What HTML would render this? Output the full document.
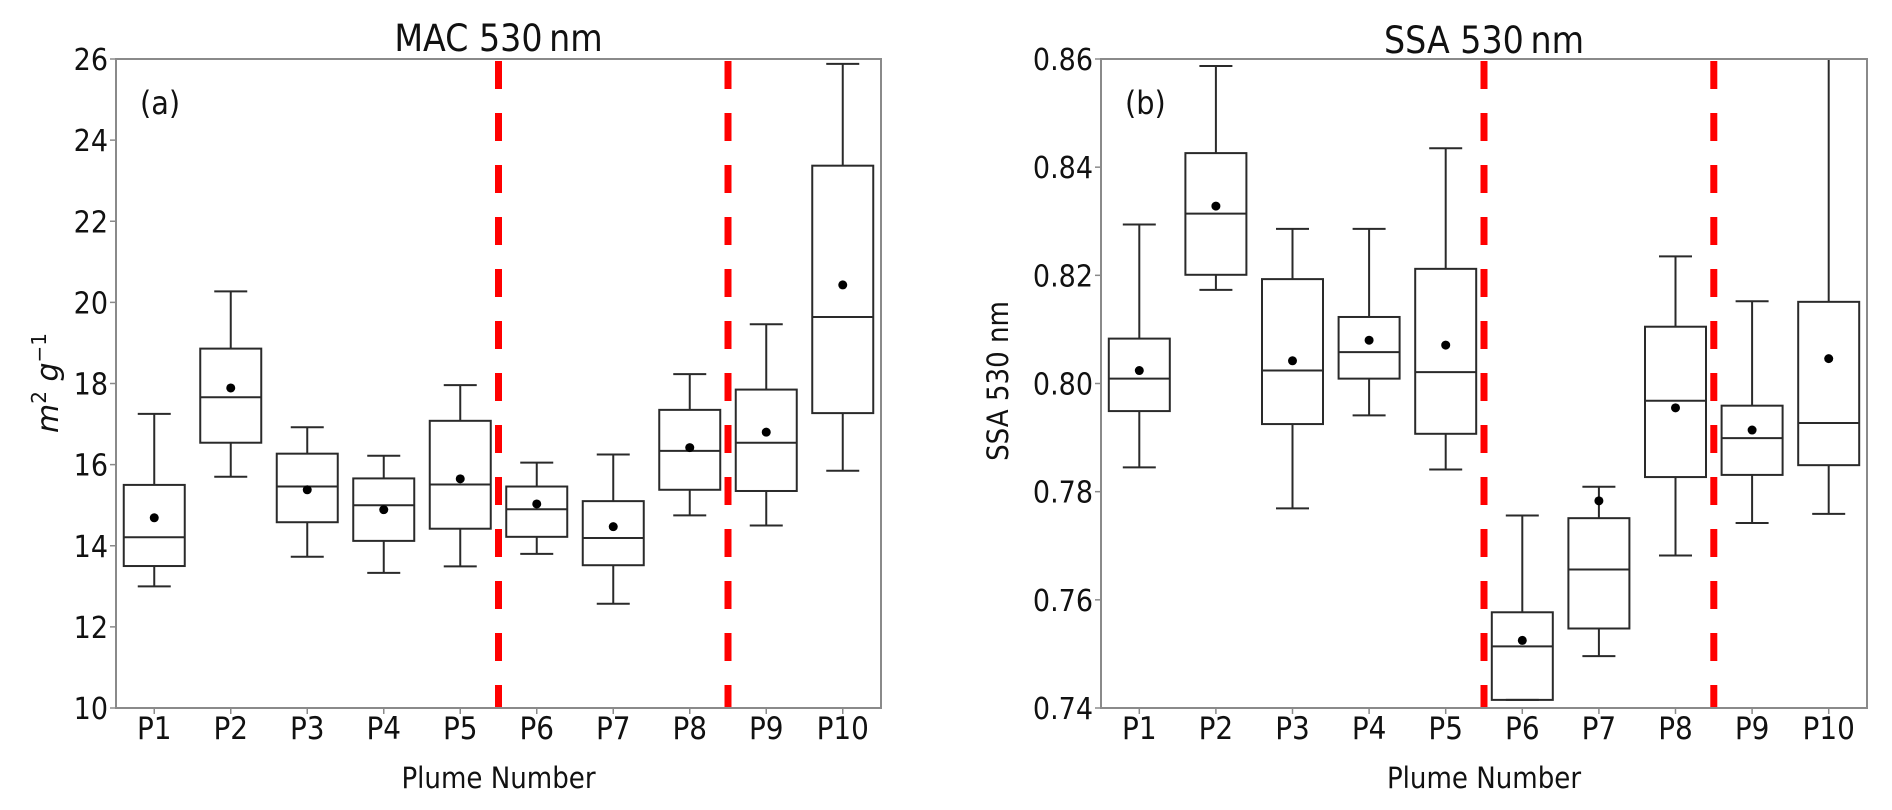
<!DOCTYPE html>
<html><head><meta charset="utf-8"><style>
html,body{margin:0;padding:0;background:#fff;}
svg{display:block;font-family:"DejaVu Sans Condensed","DejaVu Sans","Liberation Sans",sans-serif;}
</style></head><body>
<svg id="fig" width="1892" height="810" viewBox="0 0 1892 810" xmlns="http://www.w3.org/2000/svg"></svg>
<script>
const categories = ["P1","P2","P3","P4","P5","P6","P7","P8","P9","P10"];
// MAC 530 nm (m2 g-1)
const macLow  = [13.0, 15.70, 13.73, 13.33, 13.49, 13.80, 12.57, 14.75, 14.50, 15.85];
const macQ1   = [13.5, 16.54, 14.58, 14.12, 14.42, 14.22, 13.52, 15.38, 15.35, 17.27];
const macMed  = [14.21,17.66, 15.46, 15.00, 15.51, 14.90, 14.19, 16.34, 16.54, 19.64];
const macQ3   = [15.5, 18.86, 16.27, 15.66, 17.08, 15.46, 15.10, 17.35, 17.85, 23.37];
const macHigh = [17.25,20.27, 16.92, 16.22, 17.96, 16.05, 16.25, 18.23, 19.46, 25.88];
const macMean = [14.69,17.89, 15.38, 14.89, 15.65, 15.03, 14.47, 16.42, 16.80, 20.43];
const macTicks = [10,12,14,16,18,20,22,24,26];
// SSA 530 nm
const ssaLow  = [0.7845,0.8173,0.7769,0.7941,0.7841,0.7415,0.7496,0.7682,0.7742,0.7759];
const ssaQ1   = [0.7949,0.8201,0.7925,0.8009,0.7907,0.7415,0.7547,0.7827,0.7831,0.7849];
const ssaMed  = [0.8009,0.8314,0.8024,0.8058,0.8021,0.7514,0.7656,0.7968,0.7899,0.7927];
const ssaQ3   = [0.8083,0.8426,0.8193,0.8123,0.8212,0.7577,0.7751,0.8105,0.7959,0.8151];
const ssaHigh = [0.8294,0.8587,0.8286,0.8286,0.8435,0.7756,0.7809,0.8235,0.8152,0.8620];
const ssaMean = [0.8024,0.8328,0.8042,0.8080,0.8071,0.7525,0.7783,0.7955,0.7914,0.8046];
const ssaTicks = [0.74,0.76,0.78,0.80,0.82,0.84,0.86];
const dividers = [4.5, 7.5];

const NS="http://www.w3.org/2000/svg";
const svg=document.getElementById('fig');
function mk(tag,attrs,parent){const e=document.createElementNS(NS,tag);for(const k in attrs)e.setAttribute(k,attrs[k]);(parent||svg).appendChild(e);return e;}

function panel(p){
  const g=mk('g',{});
  
  
  const top=59,bot=708,L=p.left,R=p.right;
  const step=(R-L)/categories.length;
  const x=i=>L+step*(i+0.5);
  const y=v=>bot-(v-p.min)/(p.max-p.min)*(bot-top);
  const clip=mk('clipPath',{id:'clip'+p.key},g);
  mk('rect',{x:L,y:top,width:R-L,height:bot-top},clip);
  const marks=mk('g',{'clip-path':'url(#clip'+p.key+')'},g);
  
  
  for(let i=0;i<categories.length;i++){
    const bg=mk('g',{stroke:'#2a2a2a','stroke-width':2,fill:'none'},marks);
    
    
    const cx=x(i),bw=61,cw=33;
    mk('line',{x1:cx,x2:cx,y1:y(p.high[i]),y2:y(p.q3[i])},bg);
    mk('line',{x1:cx,x2:cx,y1:y(p.q1[i]),y2:y(p.low[i])},bg);
    mk('line',{x1:cx-cw/2,x2:cx+cw/2,y1:y(p.high[i]),y2:y(p.high[i])},bg);
    mk('line',{x1:cx-cw/2,x2:cx+cw/2,y1:y(p.low[i]),y2:y(p.low[i])},bg);
    mk('rect',{x:cx-bw/2,y:y(p.q3[i]),width:bw,height:y(p.q1[i])-y(p.q3[i])},bg);
    mk('line',{x1:cx-bw/2,x2:cx+bw/2,y1:y(p.med[i]),y2:y(p.med[i])},bg);
    const d=mk('circle',{cx:cx,cy:y(p.mean[i]),r:4.5,fill:'#000',stroke:'none'},bg);
    
    
  }
  dividers.forEach(dv=>{
    const xl=L+step*(dv+0.5);
    const l=mk('line',{x1:xl,x2:xl,y1:top+2,y2:bot,stroke:'#ff0000','stroke-width':7,'stroke-dasharray':'28 24'},g);
    
    
  });
  const fr=mk('rect',{x:L,y:top,width:R-L,height:bot-top,fill:'none',stroke:'#8a8a8a','stroke-width':2},g);
  
  
  p.ticks.forEach(t=>{
    const ty=y(t);
    mk('line',{x1:L-6,x2:L,y1:ty,y2:ty,stroke:'#8a8a8a','stroke-width':1.5},g);
    const tx=mk('text',{x:L-8,y:ty+11,'text-anchor':'end','font-size':30,fill:'#111'},g);
    tx.textContent=p.fmt(t);
    
    
  });
  categories.forEach((c,i)=>{
    mk('line',{x1:x(i),x2:x(i),y1:bot,y2:bot+6,stroke:'#8a8a8a','stroke-width':1.5},g);
    const tx=mk('text',{x:x(i),y:739,'text-anchor':'middle','font-size':31,fill:'#111'},g);
    tx.textContent=c;
    
    
  });
  const xt=mk('text',{x:(L+R)/2,y:788,'text-anchor':'middle','font-size':29,fill:'#111'},g);
  xt.textContent='Plume Number';
  
  
  const tt=mk('text',{x:(L+R)/2,y:p.titleY,'text-anchor':'middle','font-size':37,fill:'#111'},g);
  tt.textContent=p.title;
  
  
  const pl=mk('text',{x:L+24,y:114,'font-size':32,fill:'#111'},g);
  pl.textContent=p.label;
  
  
  return g;
}
panel({key:'a',name:'mac-chart',left:116,right:881,min:10,max:26,ticks:macTicks,fmt:v=>String(v),
  low:macLow,q1:macQ1,med:macMed,q3:macQ3,high:macHigh,mean:macMean,title:'MAC 530\u2009nm',titleY:51,label:'(a)'});
panel({key:'b',name:'ssa-chart',left:1101,right:1867,min:0.74,max:0.86,ticks:ssaTicks,fmt:v=>v.toFixed(2),
  low:ssaLow,q1:ssaQ1,med:ssaMed,q3:ssaQ3,high:ssaHigh,mean:ssaMean,title:'SSA 530\u2009nm',titleY:53,label:'(b)'});

const yl=mk('text',{x:0,y:0,transform:'translate(58,383) rotate(-90)','text-anchor':'middle','font-size':30,'font-style':'italic',fill:'#111','font-family':'"DejaVu Sans","Liberation Sans",sans-serif'});
yl.innerHTML='m<tspan dy="-12" font-size="20" font-style="normal">2</tspan><tspan dy="12"> g</tspan><tspan dy="-12" font-size="20" font-style="normal">\u22121</tspan>';


const yr=mk('text',{x:0,y:0,transform:'translate(1008,381) rotate(-90)','text-anchor':'middle','font-size':29,fill:'#111'});
yr.textContent='SSA 530 nm';


</script>
</body></html>
